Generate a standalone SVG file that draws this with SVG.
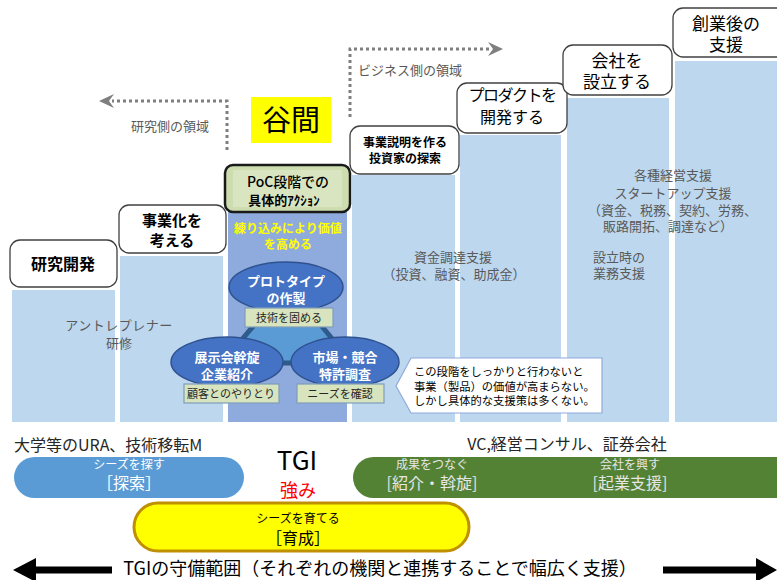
<svg xmlns="http://www.w3.org/2000/svg" width="777" height="580" viewBox="0 0 777 580">
<style>
text{font-family:"Noto Sans CJK JP","Noto Sans",sans-serif;}
.col{fill:#BDD7EE;}
.lbl{fill:#fff;stroke:#404040;stroke-width:1.3;}
.t{fill:#000;text-anchor:middle;}
.g{fill:#595959;font-size:13px;text-anchor:middle;}
.gl{fill:#595959;font-size:13px;}
.ell{fill:#4472C4;stroke:#2F528F;stroke-width:1.5;}
.et{fill:#fff;font-size:13px;font-weight:bold;text-anchor:middle;}
.tag{fill:#D7E4BD;stroke:#7F9DB9;stroke-width:1.2;}
.tt{fill:#262626;font-size:11px;text-anchor:middle;}
.dot{fill:none;stroke:#7F7F7F;stroke-width:3;stroke-dasharray:3 3;}
.pt{font-size:12px;text-anchor:middle;}
.pb{font-size:16px;text-anchor:middle;}
</style>

<g id="columns">
<rect class="col" x="12" y="290" width="103" height="132"/>
<rect class="col" x="120" y="256" width="103" height="166"/>
<rect x="228" y="200" width="119" height="222" fill="#8FAADC"/>
<rect class="col" x="352" y="175" width="103" height="247"/>
<rect class="col" x="460" y="135" width="101" height="287"/>
<rect class="col" x="567" y="98" width="102" height="324"/>
<rect class="col" x="675" y="61" width="102" height="361"/>
</g>

<g id="connectors">
<polyline class="dot" points="227,150 227,101 112,101"/>
<polygon points="99,101 114,94 109,101 114,108" fill="#7F7F7F"/>
<polyline class="dot" points="350,117 350,49 490,49"/>
<polygon points="503,49 488,42 493,49 488,56" fill="#7F7F7F"/>
<line x1="32" y1="570" x2="112" y2="570" stroke="#000" stroke-width="7"/>
<polygon points="13,570 36,558 36,582" fill="#000"/>
<line x1="663" y1="570" x2="760" y2="570" stroke="#000" stroke-width="7"/>
<polygon points="777,570 756,558 756,582" fill="#000"/>
</g>

<g id="area-labels">
<text x="170" y="131" class="g">研究側の領域</text>
<text x="358" y="75" class="gl">ビジネス側の領域</text>
</g>

<g id="tanima">
<rect x="251" y="97" width="80" height="46" fill="#FFFF00"/>
<text x="291" y="131" class="t" font-size="29">谷間</text>
</g>

<g id="node-kenkyu">
<rect class="lbl" x="10" y="240" width="107" height="47" rx="10"/>
<text x="63" y="270" class="t" font-size="16" font-weight="bold">研究開発</text>
</g>

<g id="node-jigyoka">
<rect class="lbl" x="119" y="205" width="107" height="48" rx="10"/>
<text x="172" y="226" class="t" font-size="15" font-weight="bold">事業化を</text>
<text x="172" y="246" class="t" font-size="15" font-weight="bold">考える</text>
</g>

<g id="node-poc">
<rect x="225" y="165" width="125" height="47" rx="8" fill="#CEDDAF" stroke="#1A1A1A" stroke-width="2.5"/>
<rect x="233" y="170" width="109" height="37" fill="#D9E5C1"/>
<text x="288" y="187" class="t" font-size="14" font-weight="500" textLength="82" lengthAdjust="spacingAndGlyphs">PoC段階での</text>
<text x="284" y="205" class="t" font-size="13" font-weight="bold">具体的ｱｸｼｮﾝ</text>
</g>

<g id="node-setsumei">
<rect class="lbl" x="350" y="126" width="109" height="48" rx="10"/>
<text x="405" y="147" class="t" font-size="12" font-weight="bold">事業説明を作る</text>
<text x="405" y="163" class="t" font-size="12" font-weight="bold">投資家の探索</text>
</g>

<g id="node-product">
<rect class="lbl" x="457" y="83" width="110" height="50" rx="10"/>
<text x="512" y="101" class="t" font-size="16" letter-spacing="-1.5">プロダクトを</text>
<text x="512" y="123" class="t" font-size="16">開発する</text>
</g>

<g id="node-kaisha">
<rect class="lbl" x="563" y="45" width="109" height="50" rx="10"/>
<text x="617" y="67" class="t" font-size="17">会社を</text>
<text x="617" y="88" class="t" font-size="17">設立する</text>
</g>

<g id="node-sogyo">
<rect class="lbl" x="673" y="8" width="115" height="49" rx="10"/>
<text x="726" y="30" class="t" font-size="17">創業後の</text>
<text x="726" y="51" class="t" font-size="17">支援</text>
</g>

<g id="column-texts">
<text x="119" y="330" class="g" letter-spacing="0.5">アントレプレナー</text>
<text x="119" y="348" class="g">研修</text>
<text x="453" y="262" class="g">資金調達支援</text>
<text x="454" y="279" class="g">（投資、融資、助成金）</text>
<text x="673" y="180" class="g">各種経営支援</text>
<text x="673" y="198" class="g">スタートアップ支援</text>
<text x="588" y="215" class="gl">（資金、税務、契約、労務、</text>
<text x="603" y="231" class="gl">販路開拓、調達など）</text>
<text x="593" y="262" class="gl">設立時の</text>
<text x="593" y="278" class="gl">業務支援</text>
</g>

<g id="poc-inner">
<text x="288" y="233" font-size="12" font-weight="bold" fill="#FFFF00" text-anchor="middle">練り込みにより価値</text>
<text x="288" y="249" font-size="12" font-weight="bold" fill="#FFFF00" text-anchor="middle">を高める</text>
<polygon points="288,285 222,363 352,363" fill="#5B9BD5" stroke="#2E5C8A" stroke-width="5" stroke-linejoin="round"/>
</g>

<g id="node-prototype">
<ellipse class="ell" cx="286" cy="287" rx="57" ry="25"/>
<text x="286" y="286" class="et">プロトタイプ</text>
<text x="286" y="303" class="et">の作製</text>
<rect class="tag" x="245" y="308" width="88" height="19"/>
<text x="289" y="322" class="tt">技術を固める</text>
</g>

<g id="node-tenji">
<ellipse class="ell" cx="227" cy="362" rx="56" ry="25"/>
<text x="227" y="362" class="et">展示会幹旋</text>
<text x="227" y="379" class="et">企業紹介</text>
<rect class="tag" x="184" y="384" width="95" height="19"/>
<text x="231" y="398" class="tt">顧客とのやりとり</text>
</g>

<g id="node-shijo">
<ellipse class="ell" cx="345" cy="362" rx="54" ry="25"/>
<text x="345" y="362" class="et">市場・競合</text>
<text x="345" y="379" class="et">特許調査</text>
<rect class="tag" x="297" y="384" width="87" height="19"/>
<text x="340" y="398" class="tt">ニーズを確認</text>
</g>

<g id="callout">
<polygon points="411,358 602,358 602,413 411,413 396,386" fill="#fff" stroke="#8FAADC" stroke-width="1.2"/>
<text x="414" y="376" font-size="11.3">この段階をしっかりと行わないと</text>
<text x="414" y="391" font-size="11.3">事業（製品）の価値が高まらない。</text>
<text x="414" y="405" font-size="11.3">しかし具体的な支援策は多くない。</text>
</g>

<g id="bottom-labels">
<text x="14" y="451" font-size="16" fill="#262626">大学等のURA、技術移転M</text>
<text x="567" y="450" font-size="16" fill="#262626" text-anchor="middle">VC,経営コンサル、証券会社</text>
<text x="297" y="470" font-size="26" fill="#000" text-anchor="middle">TGI</text>
<text x="298" y="497" font-size="18" fill="#FF0000" text-anchor="middle">強み</text>
</g>

<g id="pill-tansaku">
<rect x="14" y="457" width="230" height="41" rx="20.5" fill="#5B9BD5"/>
<text x="129" y="469" class="pt" fill="#fff">シーズを探す</text>
<text x="129" y="489" class="pb" fill="#fff">［探索］</text>
</g>

<g id="pill-kaiso">
<rect x="353" y="457" width="450" height="41" rx="20.5" fill="#548235"/>
<text x="432" y="469" class="pt" fill="#E6E6E6">成果をつなぐ</text>
<text x="432" y="489" class="pb" fill="#E6E6E6">[紹介・斡旋]</text>
<text x="630" y="469" class="pt" fill="#E6E6E6">会社を興す</text>
<text x="630" y="489" class="pb" fill="#E6E6E6">[起業支援]</text>
</g>

<g id="pill-ikusei">
<rect x="134" y="503" width="335" height="48" rx="24" fill="#FFFF00" stroke="#BF9000" stroke-width="3"/>
<text x="298" y="523" class="pt" fill="#000">シーズを育てる</text>
<text x="298" y="544" class="pb" fill="#000">［育成］</text>
</g>

<g id="range-label">
<text x="380" y="575" font-size="18" fill="#000" text-anchor="middle">TGIの守備範囲（それぞれの機関と連携することで幅広く支援）</text>
</g>
</svg>
